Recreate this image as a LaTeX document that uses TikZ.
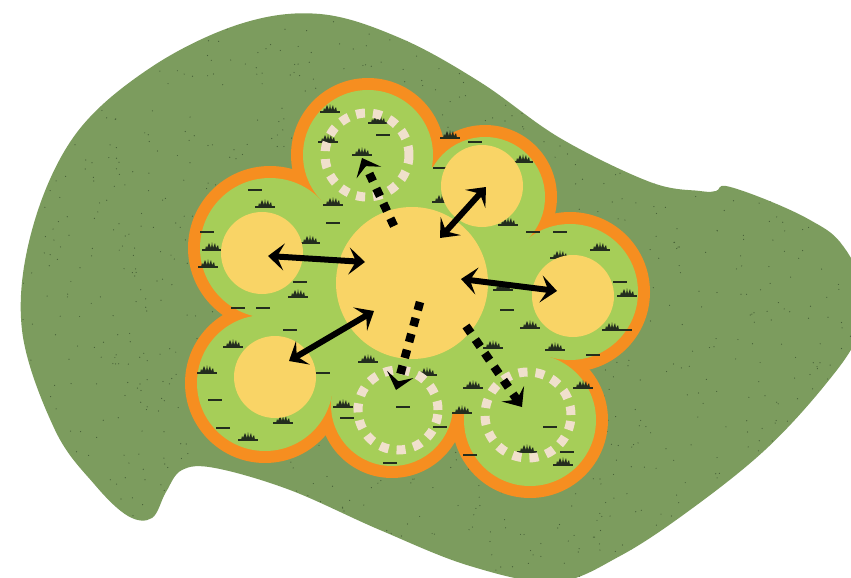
\documentclass[tikz,border=0pt]{standalone}
\usetikzlibrary{arrows.meta}
\definecolor{bg}{RGB}{124,156,94}
\definecolor{speck}{RGB}{70,95,55}
\definecolor{lgreen}{RGB}{166,206,88}
\definecolor{orng}{RGB}{246,142,32}
\definecolor{yel}{RGB}{249,212,102}
\definecolor{beige}{RGB}{240,224,204}
\definecolor{tuftc}{RGB}{35,45,30}
\tikzset{
  tuft/.pic={
    \draw[tuftc,line width=1.6pt] (-10,0)--(10,0);
    \fill[tuftc] (-7,0) -- (-6,-4) -- (-5,-2) -- (-3,-7) -- (-1,-2) -- (0,-8) -- (1,-2) -- (3,-7) -- (4,-2) -- (6,-5) -- (7,0) -- cycle;
  },
  dsh/.pic={\draw[tuftc,line width=1.6pt] (-7,0)--(7,0);},
  dbl/.style={line width=6pt,black,{Stealth[length=16pt,width=27pt,inset=7pt]}-{Stealth[length=16pt,width=27pt,inset=7pt]}},
  dotarr/.style={line width=8.5pt,black,dash pattern=on 8.5pt off 8pt,-{Stealth[length=16pt,width=27pt,inset=7pt]}},
  ring/.style={beige,line width=9pt,dash pattern=on 9pt off 8pt},
  ybox/.style={circle,fill=yel,inner sep=0pt}
}
\begin{document}
\begin{tikzpicture}[x=1pt,y=-1pt]
\useasboundingbox (0,0) rectangle (851,578);
\begin{scope}
\clip (0,0) rectangle (851,578);
\pgfmathsetseed{7}
\path[fill=bg,path picture={
  \foreach \i in {1,...,1400} \fill[speck] ({rnd*851},{rnd*578}) circle (0.6pt);
}] plot[smooth cycle,tension=0.6] coordinates {
 (22,330) (32,230) (75,135) (150,68) (240,24) (320,14) (400,38) (480,82) (560,138)
 (650,182) (700,191) (716,191) (726,186) (767,200) (810,220) (840,242) (862,285) (858,335)
 (825,385) (765,450) (690,510) (620,556) (555,582) (470,566) (380,530) (290,490)
 (215,468) (182,470) (166,492) (152,518) (128,516) (95,485) (55,430)};
\end{scope}
% flower lobes
\foreach \cx/\cy/\r in {368/155/77,485/197/72,570/292/80,530/420/78,392/405/73,265/383/80,270/248/82}
  \fill[orng] (\cx,\cy) circle[radius=\r pt];
\foreach \cx/\cy/\r in {368/155/65,485/197/60,570/292/68,530/420/66,392/405/61,265/383/68,270/248/70}
  \fill[lgreen] (\cx,\cy) circle[radius=\r pt];
\fill[lgreen] (368,155) -- (485,197) -- (570,292) -- (530,420) -- (392,405) -- (265,383) -- (270,248) -- cycle;
\fill[lgreen] (410,290) circle[radius=125pt];
% grass tufts
\foreach \x/\y in {330/112,378/123,328/142,362/155,333/205,450/138,442/202,508/225,523/162,
  310/243,530/328,555/350,493/348,368/362,427/375,473/388,343/407,462/413,583/388,
  563/465,527/452,503/290,265/207,212/250,208/267,298/297,233/347,207/373,283/423,
  627/296,612/330,248/440,600/250,560/258}
  \pic at (\x,\y) {tuft};
\foreach \x/\y in {383/135,333/223,475/142,440/168,533/232,507/310,403/407,440/427,550/427,
  567/452,593/355,390/463,207/232,300/282,263/308,238/308,290/330,323/373,223/428,347/418,
  215/400,560/232,625/330,470/455,255/190,620/282}
  \pic at (\x,\y) {dsh};
% yellow circles
\node[ybox,minimum size=152pt] (C) at (412,283) {};
\node[ybox,minimum size=82pt] (L) at (262,253) {};
\node[ybox,minimum size=82pt] (TR) at (482,186) {};
\node[ybox,minimum size=82pt] (R) at (573,296) {};
\node[ybox,minimum size=82pt] (BL) at (275,377) {};
% rings of stones
\draw[ring] (367,155) circle[radius=42pt];
\draw[ring] (398,410) circle[radius=40pt];
\draw[ring] (528,415) circle[radius=43pt];
% arrow ends
\coordinate (a1) at (268,256); \coordinate (a2) at (365,262);
\coordinate (b1) at (440,238); \coordinate (b2) at (486,187);
\coordinate (c1) at (461,279); \coordinate (c2) at (557,291);
\coordinate (d1) at (289,361); \coordinate (d2) at (374,311);
\coordinate (e1) at (394,226); \coordinate (e2) at (362,158);
\coordinate (f1) at (420,302); \coordinate (f2) at (396,390);
\coordinate (g1) at (466,326); \coordinate (g2) at (522,407);
\draw[dbl] (a1) -- (a2);
\draw[dbl] (b1) -- (b2);
\draw[dbl] (c1) -- (c2);
\draw[dbl] (d1) -- (d2);
\draw[dotarr] (e1) -- (e2);
\draw[dotarr] (f1) -- (f2);
\draw[dotarr] (g1) -- (g2);
\end{tikzpicture}
\end{document}
